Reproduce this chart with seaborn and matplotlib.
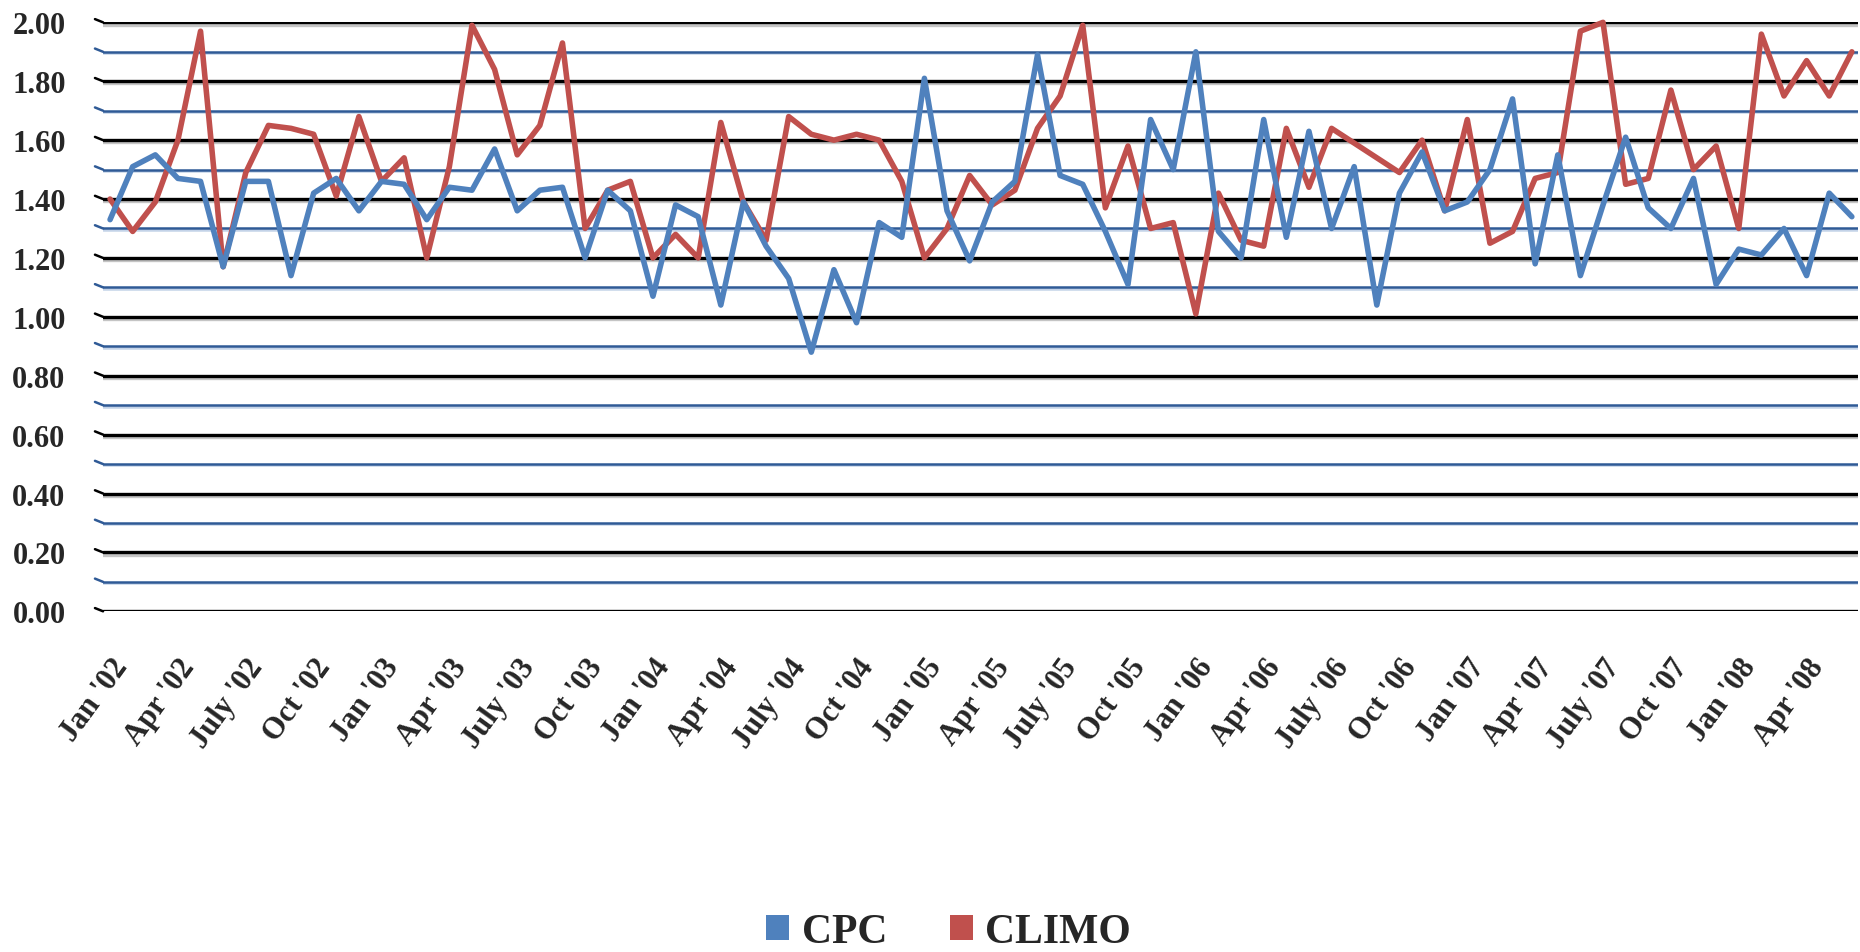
import numpy as np
import pandas as pd
import matplotlib
matplotlib.use("Agg")
import matplotlib.pyplot as plt
import matplotlib.patheffects as pe
import matplotlib.transforms as mtransforms
from matplotlib.patches import Patch
from matplotlib.ticker import FormatStrFormatter, MultipleLocator
import seaborn as sns

# monthly values, Jan 2002 - Jun 2008
cpc = [1.33, 1.51, 1.55, 1.47, 1.46, 1.17, 1.46, 1.46, 1.14, 1.42, 1.47, 1.36, 1.46,
       1.45, 1.33, 1.44, 1.43, 1.57, 1.36, 1.43, 1.44, 1.20, 1.43, 1.36, 1.07, 1.38,
       1.34, 1.04, 1.39, 1.24, 1.13, 0.88, 1.16, 0.98, 1.32, 1.27, 1.81, 1.36, 1.19,
       1.39, 1.46, 1.89, 1.48, 1.45, 1.29, 1.11, 1.67, 1.50, 1.90, 1.29, 1.20, 1.67,
       1.27, 1.63, 1.30, 1.51, 1.04, 1.42, 1.56, 1.36, 1.39, 1.50, 1.74, 1.18, 1.55,
       1.14, 1.38, 1.61, 1.37, 1.30, 1.47, 1.11, 1.23, 1.21, 1.30, 1.14, 1.42, 1.34]
climo = [1.40, 1.29, 1.39, 1.60, 1.97, 1.17, 1.49, 1.65, 1.64, 1.62, 1.41, 1.68, 1.46,
         1.54, 1.20, 1.51, 1.99, 1.84, 1.55, 1.65, 1.93, 1.30, 1.43, 1.46, 1.20, 1.28,
         1.20, 1.66, 1.39, 1.26, 1.68, 1.62, 1.60, 1.62, 1.60, 1.46, 1.20, 1.30, 1.48,
         1.38, 1.43, 1.64, 1.75, 1.99, 1.37, 1.58, 1.30, 1.32, 1.01, 1.42, 1.26, 1.24,
         1.64, 1.44, 1.64, 1.59, 1.54, 1.49, 1.60, 1.36, 1.67, 1.25, 1.29, 1.47, 1.49,
         1.97, 2.00, 1.45, 1.47, 1.77, 1.50, 1.58, 1.30, 1.96, 1.75, 1.87, 1.75, 1.90]

tick_labels = ["Jan '02", "Apr '02", "July '02", "Oct '02",
               "Jan '03", "Apr '03", "July '03", "Oct '03",
               "Jan '04", "Apr '04", "July '04", "Oct '04",
               "Jan '05", "Apr '05", "July '05", "Oct '05",
               "Jan '06", "Apr '06", "July '06", "Oct '06",
               "Jan '07", "Apr '07", "July '07", "Oct '07",
               "Jan '08", "Apr '08"]

blue = "#4F81BD"
red = "#C0504D"

month = np.arange(len(cpc))
df = pd.DataFrame({
    "month": np.concatenate([month, month]),
    "value": climo + cpc,
    "series": ["CLIMO"] * len(climo) + ["CPC"] * len(cpc),
})

sns.set_style("white")
plt.rcParams["font.family"] = ["Liberation Serif", "DejaVu Serif"]
plt.rcParams["font.weight"] = "bold"

fig = plt.figure(figsize=(18.6, 9.53), dpi=100)
ax = fig.add_axes([0.0554, 0.3575, 0.9435, 0.618])

sns.lineplot(data=df, x="month", y="value", hue="series",
             hue_order=["CLIMO", "CPC"], palette={"CLIMO": red, "CPC": blue},
             linewidth=4.0, legend=False, ax=ax, clip_on=False, zorder=5)

ax.set_xlim(-0.31, len(cpc) - 1 + 0.27)
ax.set_ylim(0, 2.0)
ax.yaxis.set_major_locator(MultipleLocator(0.2))
ax.yaxis.set_minor_locator(MultipleLocator(0.1))
ax.yaxis.set_major_formatter(FormatStrFormatter("%.2f"))

ax.grid(axis="y", which="major", color="black", linewidth=2.4,
        path_effects=[pe.SimpleLineShadow(offset=(0, -1.6), shadow_color="gray", alpha=0.45),
                      pe.Normal()])
ax.grid(axis="y", which="minor", color="#2F5A96", linewidth=1.8,
        path_effects=[pe.SimpleLineShadow(offset=(0, -1.0), shadow_color="#9DB7D9", alpha=0.6),
                      pe.Normal()])
ax.grid(axis="x", visible=False)
ax.set_axisbelow(True)

# little hooks at the left end of every gridline
trans = mtransforms.blended_transform_factory(ax.transAxes, ax.transData)
for k in range(21):
    yv = k * 0.1
    col = "black" if k % 2 == 0 else "#2F5A96"
    ax.plot([-0.0046, 0], [yv + 0.011, yv], transform=trans, color=col,
            linewidth=1.8, clip_on=False)

ax.set_xticks(month[::3])
ax.set_xticklabels(tick_labels, rotation=54, ha="right", rotation_mode="anchor",
                   fontsize=22, fontweight="bold")
for lab in ax.get_xticklabels():
    lab.set_transform(lab.get_transform() + mtransforms.ScaledTranslation(10 / 100, 0, fig.dpi_scale_trans))
ax.tick_params(axis="x", length=0, pad=30)
ax.tick_params(axis="y", which="both", length=0, pad=27, labelsize=22)
for lab in ax.get_yticklabels():
    lab.set_fontweight("bold")

for s in ax.spines.values():
    s.set_visible(False)
ax.set_xlabel("")
ax.set_ylabel("")

handles = [Patch(facecolor=blue, edgecolor="none", label="CPC"),
           Patch(facecolor=red, edgecolor="none", label="CLIMO")]
fig.legend(handles=handles, loc="center", bbox_to_anchor=(0.51, 0.021), ncol=2,
           frameon=False, prop={"weight": "bold", "size": 30},
           handlelength=0.56, handleheight=0.56, handletextpad=0.3,
           columnspacing=1.5, borderpad=0)

fig.savefig("out.png", dpi=100)
